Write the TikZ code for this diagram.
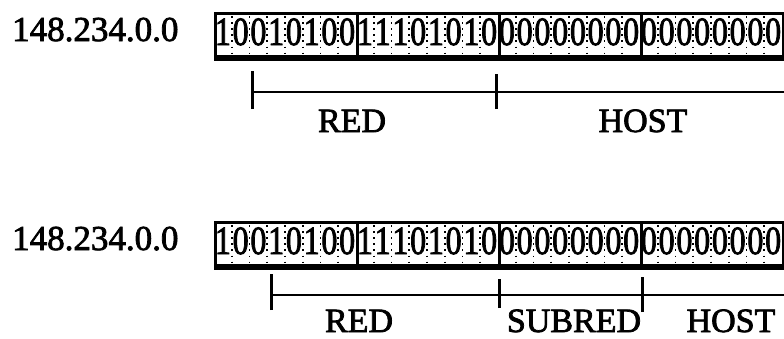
\documentclass[tikz,border=0pt]{standalone}
\usepackage{fontspec}
\setmainfont{Liberation Serif}
\newfontfamily\scanfont{Liberation Serif}[FakeBold=2.2]
\begin{document}
\begin{tikzpicture}[x=1pt,y=-1pt,
  addr/.style={anchor=base west,inner sep=0pt,font=\scanfont\fontsize{35}{35}\selectfont},
  bit/.style={anchor=base,inner sep=0pt,font=\scanfont\fontsize{40}{40}\selectfont,xscale=0.8},
  octet/.style={draw,line width=2.8pt,minimum width=142pt,minimum height=43pt,inner sep=0pt,anchor=north west},
  sep/.style={line width=1.6pt,dash pattern=on 1.6pt off 4.5pt},
  rule/.style={line width=2.6pt},
  tick/.style={line width=3pt},
  part/.style={anchor=base,inner sep=0pt,font=\scanfont\fontsize{34}{34}\selectfont}]
\useasboundingbox (0,0) rectangle (784,338);
\clip (0,0) rectangle (784,338);

% two address rows: row 1 at top 12, row 2 at top 221
\foreach \r/\top in {1/12,2/221}{
  \node[addr] (lab\r) at (12,{\top+29}) {148.234.0.0};
  \foreach \o in {0,...,3}{
    % bit separators inside each octet
    \foreach \k in {1,...,7}
      \draw[sep] ({214+142*\o+17.75*\k},{\top+4}) -- ({214+142*\o+17.75*\k},{\top+41});
    \node[octet] (oct\r\o) at ({214+142*\o},\top) {};
    % heavier lower edge
    \draw[line width=4.4pt] ([yshift=-0.8pt]oct\r\o.south west) -- ([yshift=-0.8pt]oct\r\o.south east);
  }
  % bits of 148.234.0.0
  \foreach \b [count=\i from 0] in {1,0,0,1,0,1,0,0,1,1,1,0,1,0,1,0,0,0,0,0,0,0,0,0,0,0,0,0,0,0,0,0}
    \node[bit] (b\r-\i) at ({214+17.75*\i+8.9},{\top+33}) {\b};
}

% ruler for the classful split
\coordinate (ta) at (252,92);
\coordinate (tb) at (496,92);
\coordinate (tc) at (800,92);
\draw[rule] (ta) -- (tb) -- (tc);
\draw[tick] ([yshift=-17pt]ta) -- ([yshift=21pt]ta);
\draw[tick] ([yshift=-17pt]tb) -- ([yshift=18pt]tb);
\node[part] (red1) at (352,132) {RED};
\node[part] (host1) at (643,132) {HOST};

% ruler for the subnetted split
\coordinate (ba) at (271,295);
\coordinate (bb) at (499,295);
\coordinate (bc) at (642,295);
\coordinate (bd) at (800,295);
\draw[rule] (ba) -- (bb) -- (bc) -- (bd);
\draw[tick] ([yshift=-15pt]ba) -- ([yshift=21pt]ba);
\draw[tick] ([yshift=-13pt]bb) -- ([yshift=16pt]bb);
\draw[tick] ([yshift=-17pt]bc) -- ([yshift=18pt]bc);
\node[part] (red2) at (359,332) {RED};
\node[part] (sub2) at (574,332) {SUBRED};
\node[part] (host2) at (731,332) {HOST};
\end{tikzpicture}
\end{document}
